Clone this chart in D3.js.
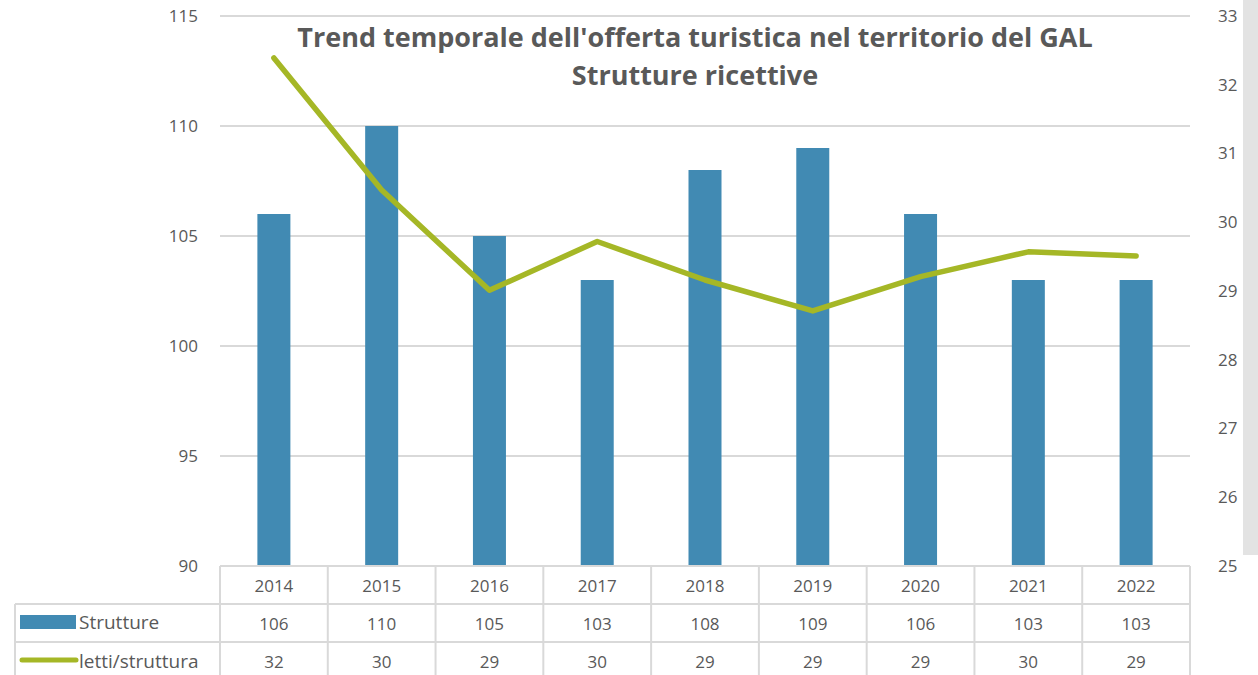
<!DOCTYPE html>
<html><head><meta charset="utf-8">
<script src="https://cdn.jsdelivr.net/npm/d3@7/dist/d3.min.js"></script>
<style>body{margin:0;background:#fff;}svg{display:block;}</style>
</head><body>
<svg id="c" width="1258" height="675"></svg>
<script>
const years = ["2014","2015","2016","2017","2018","2019","2020","2021","2022"];
const strutture = [106,110,105,103,108,109,106,103,103];
const letti = [32.39,30.47,29.01,29.72,29.16,28.71,29.21,29.57,29.51];
const lettiLabels = ["32","30","29","30","29","29","29","30","29"];
const leftTicks = [90,95,100,105,110,115];
const rightTicks = [25,26,27,28,29,30,31,32,33];
const titleLines = ["Trend temporale dell'offerta turistica nel territorio del GAL","Strutture ricettive"];
const seriesNames = ["Strutture","letti/struttura"];

const svg = d3.select("#c");
const L = 220, R = 1190, T = 16, B = 566;
const fontTick = "'Open Sans', sans-serif";
const grey = "#595959", gridC = "#d9d9d9";
const blue = "#418ab3", green = "#a5b726";

// right grey strip
svg.append("rect").attr("x",1243).attr("y",0).attr("width",15).attr("height",555).attr("fill","#e3e3e3");

const x = d3.scaleBand().domain(years).range([L,R]).padding(0);
const yL = d3.scaleLinear().domain([90,115]).range([B,T]);
const yR = d3.scaleLinear().domain([25,33]).range([B,T]);

// gridlines
svg.append("g").selectAll("line").data(leftTicks.filter(d=>d>90)).join("line")
  .attr("x1",L).attr("x2",R).attr("y1",d=>yL(d)).attr("y2",d=>yL(d))
  .attr("stroke",gridC).attr("stroke-width",2);

// left axis labels
const gl = svg.append("g").attr("transform",`translate(${L-22},0)`)
  .call(d3.axisLeft(yL).tickValues(leftTicks).tickSize(0).tickPadding(0));
gl.select(".domain").remove();
gl.selectAll("text").attr("font-family",fontTick).attr("font-size",17).attr("fill",grey);

const gr = svg.append("g").attr("transform",`translate(${R+28},0)`)
  .call(d3.axisRight(yR).tickValues(rightTicks).tickSize(0).tickPadding(0));
gr.select(".domain").remove();
gr.selectAll("text").attr("font-family",fontTick).attr("font-size",17).attr("fill",grey);

// bars
const bw = 33;
svg.append("g").selectAll("rect").data(strutture).join("rect")
  .attr("x",(d,i)=>x(years[i])+x.bandwidth()/2-bw/2)
  .attr("width",bw)
  .attr("y",d=>yL(d)).attr("height",d=>B-yL(d))
  .attr("fill",blue);

// line
const line = d3.line().x((d,i)=>x(years[i])+x.bandwidth()/2).y(d=>yR(d));
svg.append("path").datum(letti).attr("d",line).attr("fill","none")
  .attr("stroke",green).attr("stroke-width",5.5).attr("stroke-linecap","round").attr("stroke-linejoin","round");

// title
const tt = svg.append("text").attr("x",695).attr("font-family","'Open Sans', sans-serif")
  .attr("font-weight","bold").attr("font-size",27).attr("fill",grey).attr("text-anchor","middle");
tt.selectAll("tspan").data(titleLines).join("tspan").attr("x",695).attr("y",(d,i)=>47+i*38).text(d=>d);

// data table
const tg = svg.append("g");
tg.append("line").attr("x1",L).attr("x2",R).attr("y1",566).attr("y2",566).attr("stroke",gridC).attr("stroke-width",2);
[604,642].forEach(yv=>tg.append("line").attr("x1",15).attr("x2",R).attr("y1",yv).attr("y2",yv).attr("stroke",gridC).attr("stroke-width",2));
years.forEach(yr=>tg.append("line").attr("x1",x(yr)).attr("x2",x(yr)).attr("y1",566).attr("y2",675).attr("stroke",gridC).attr("stroke-width",2));
tg.append("line").attr("x1",R).attr("x2",R).attr("y1",566).attr("y2",675).attr("stroke",gridC).attr("stroke-width",2);
tg.append("line").attr("x1",15).attr("x2",15).attr("y1",604).attr("y2",675).attr("stroke",gridC).attr("stroke-width",2);

const cellText = (arr, yv) => tg.append("g").selectAll("text").data(arr).join("text")
  .attr("x",(d,i)=>x(years[i])+x.bandwidth()/2).attr("y",yv)
  .attr("text-anchor","middle").attr("font-family",fontTick).attr("font-size",17).attr("fill",grey).text(d=>d);
cellText(years,592);
cellText(strutture,630);
cellText(lettiLabels,668);

// legend keys
tg.append("rect").attr("x",20).attr("y",615).attr("width",56).attr("height",14).attr("fill",blue);
tg.append("line").attr("x1",22).attr("x2",76).attr("y1",660).attr("y2",660).attr("stroke",green).attr("stroke-width",5).attr("stroke-linecap","round");
tg.append("text").attr("x",79).attr("y",629).attr("font-family",fontTick).attr("font-size",19).attr("fill",grey).text(seriesNames[0]);
tg.append("text").attr("x",79).attr("y",668).attr("font-family",fontTick).attr("font-size",19).attr("fill",grey).text(seriesNames[1]);
</script>
</body></html>
